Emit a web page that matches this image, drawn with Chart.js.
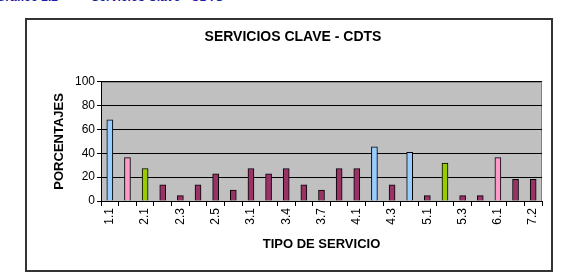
<!DOCTYPE html>
<html>
<head>
<meta charset="utf-8">
<script src="https://cdn.jsdelivr.net/npm/chart.js@4.4.1/dist/chart.umd.min.js"></script>
<style>
  html, body { margin: 0; padding: 0; background: #fff; }
  #wrap { position: relative; width: 561px; height: 276px; overflow: hidden; }
  #caption { position: absolute; left: -4px; top: -10px; font: bold 12px "Liberation Sans", Arial, sans-serif; color: #2020a0; white-space: pre; }
  #box { position: absolute; left: 25px; top: 18px; width: 528px; height: 254px; border: 2px solid #333; box-sizing: border-box; pointer-events: none; }
  canvas { position: absolute; left: 0; top: 0; }
</style>
</head>
<body>
<div id="wrap">
  <div id="caption">Gráfico 2.2          Servicios Clave - CDTS</div>
  <canvas id="chart" width="561" height="276"></canvas>
  <div id="box"></div>
</div>
<script>
// datos
const categorias = ['1.1','1.2','2.1','2.2','2.3','2.4','2.5','2.6','3.1','3.2','3.4','3.5','3.7',
                    '3.8','4.1','4.2','4.3','4.4','5.1','5.2','5.3','5.4','6.1','7.1','7.2'];
const porcentajes = [68.2, 36.4, 27.3, 13.6, 4.5, 13.6, 22.7, 9.1, 27.3, 22.7, 27.3, 13.6, 9.1,
                     27.3, 27.3, 45.5, 13.6, 40.9, 4.5, 31.8, 4.5, 4.5, 36.4, 18.2, 18.2];
const yTicks = [0, 20, 40, 60, 80, 100];

const AZUL = '#99ccff', ROSA = '#ff99cc', VERDE = '#99cc00', GRANATE = '#993366';
const coloresBarra = [AZUL, ROSA, VERDE, GRANATE, GRANATE, GRANATE, GRANATE, GRANATE, GRANATE,
  GRANATE, GRANATE, GRANATE, GRANATE, GRANATE, GRANATE, AZUL, GRANATE, AZUL, GRANATE, VERDE,
  GRANATE, GRANATE, ROSA, GRANATE, GRANATE];

const FONT = '"Liberation Sans", Arial, sans-serif';

const fondoPlot = {
  id: 'fondoPlot',
  beforeDraw(chart) {
    const a = chart.chartArea, c = chart.ctx;
    c.save();
    c.fillStyle = '#c0c0c0';
    c.fillRect(a.left, a.top, a.right - a.left, a.bottom - a.top);
    c.strokeStyle = '#808080';
    c.lineWidth = 1;
    c.strokeRect(a.left + 0.5, a.top + 0.5, a.right - a.left - 1, a.bottom - a.top);
    c.restore();
  }
};

const ctx = document.getElementById('chart').getContext('2d');
const grafico = new Chart(ctx, {
  type: 'bar',
  data: {
    labels: categorias,
    datasets: [{
      data: porcentajes,
      backgroundColor: coloresBarra,
      borderColor: '#000',
      borderWidth: 1,
      barThickness: 6
    }]
  },
  options: {
    responsive: false,
    animation: false,
    layout: { padding: { left: 44, right: 19, top: 24, bottom: 24 } },
    plugins: {
      legend: { display: false },
      tooltip: { enabled: false },
      title: {
        display: true,
        text: 'SERVICIOS CLAVE - CDTS',
        color: '#000',
        font: { family: FONT, size: 14, weight: 'bold' },
        padding: { top: 5, bottom: 36 }
      }
    },
    scales: {
      x: {
        offset: true,
        grid: { display: true, offset: true, drawOnChartArea: false, color: '#000', tickLength: 5 },
        border: { display: true, color: '#000' },
        ticks: {
          autoSkip: false, minRotation: 90, maxRotation: 90, color: '#000', padding: 2,
          font: { family: FONT, size: 12 },
          callback: function(v, i) { return i % 2 === 0 ? categorias[i] : ''; }
        },
        title: {
          display: true, text: 'TIPO DE SERVICIO', color: '#000',
          font: { family: FONT, size: 13, weight: 'bold' },
          padding: { top: 4, bottom: 0 }
        },
        afterFit: function(s) { s.height = 51; }
      },
      y: {
        min: 0, max: 100,
        afterBuildTicks: function(s) { s.ticks = yTicks.map(v => ({ value: v })); },
        grid: { color: '#000', tickLength: 4 },
        border: { display: true, color: '#000' },
        ticks: { color: '#000', padding: 2, font: { family: FONT, size: 12 } },
        title: {
          display: true, text: 'PORCENTAJES', color: '#000',
          font: { family: FONT, size: 13, weight: 'bold' },
          padding: { top: 8, bottom: 4 }
        },
        afterFit: function(s) { s.width = 57; }
      }
    }
  },
  plugins: [fondoPlot]
});
</script>
</body>
</html>
